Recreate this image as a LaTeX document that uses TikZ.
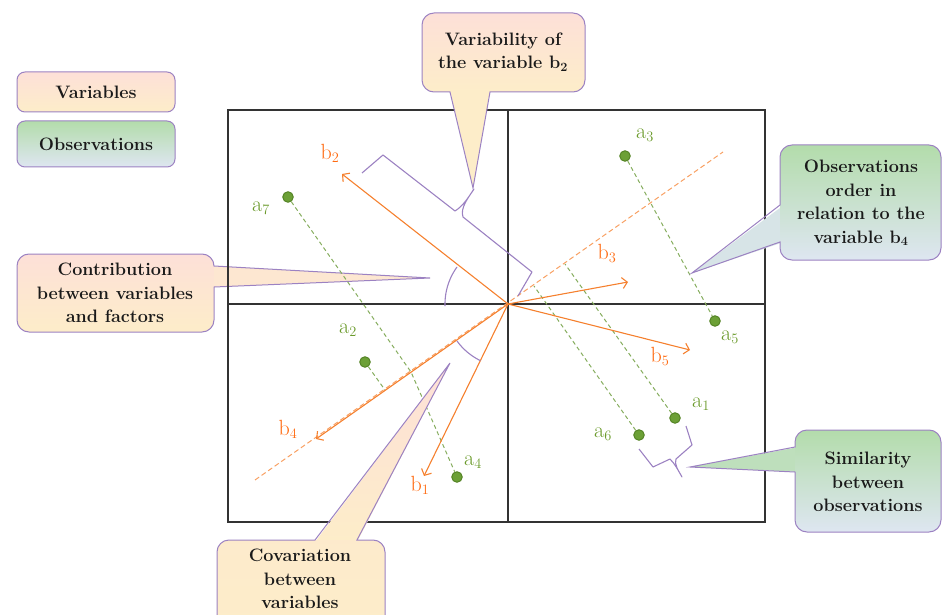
\documentclass[tikz,border=0pt]{standalone}
\usetikzlibrary{arrows.meta}
\definecolor{orng}{HTML}{F5802E}
\definecolor{orngtxt}{HTML}{FF6A10}
\definecolor{grn}{HTML}{6CA036}
\definecolor{grndk}{HTML}{558426}
\definecolor{grntxt}{HTML}{6A9A2A}
\definecolor{grndash}{HTML}{86AD5E}
\definecolor{purp}{HTML}{9C82C2}
\definecolor{pinktop}{HTML}{FDE0D8}
\definecolor{peachbot}{HTML}{FDEDC9}
\definecolor{greentop}{HTML}{B3DCAB}
\definecolor{bluebot}{HTML}{DEE6F1}
\definecolor{txt}{HTML}{1A1A1A}
\definecolor{frame}{HTML}{333333}
\begin{document}
\begin{tikzpicture}[x=1pt,y=-1pt,
  ctext/.style={align=center,text=txt,font=\fontsize{18}{23.5}\selectfont\bfseries,inner sep=0pt},
  blab/.style={text=orngtxt,font=\fontsize{22}{24}\selectfont,inner sep=0pt},
  alab/.style={text=grntxt,font=\fontsize{22}{24}\selectfont,inner sep=0pt},
  gdot/.style={circle,fill=grn,draw=grndk,line width=1pt,minimum size=10.5pt,inner sep=0pt},
  arr/.style={orng,line width=1.1pt,-{Straight Barb[length=5pt,width=11pt]}},
  gdash/.style={grndash,dash pattern=on 4pt off 3pt,line width=1pt},
  odash/.style={orng!75,dash pattern=on 5pt off 3pt,line width=1pt},
  outl/.style={purp,line width=1pt},
  brk/.style={purp,line width=1.1pt,line join=round},
  frm/.style={frame,line width=1.2pt}]
\useasboundingbox (0,0) rectangle (943,615);

% ---------- contribution callout (behind frame) ----------
\fill[pinktop!50!peachbot] (210,266) -- (430,278) -- (210,287) -- cycle;
\shade[top color=pinktop,bottom color=peachbot,rounded corners=12pt] (17,254) rectangle (214,332);
\draw[outl] (214,287) [rounded corners=12pt] -- (214,332) -- (17,332) -- (17,254) -- (214,254) [sharp corners] -- (214,266) -- (430,278) -- cycle;
\node[ctext] (contr) at (115,293) {Contribution\\between variables\\and factors};

% ---------- frame ----------
\draw[frm] (228,110) rectangle (765,522);
\coordinate (O) at (508,304);
\coordinate (vt) at (508,110);
\coordinate (vb) at (508,522);
\coordinate (hl) at (228,304);
\coordinate (hr) at (765,304);
\draw[frm] (vt) -- (vb);
\draw[frm] (hl) -- (hr);

% ---------- b4 axis ----------
\coordinate (ax1) at (255,480);
\coordinate (ax2) at (723,152);
\draw[odash] (ax1) -- (ax2);

% ---------- observations ----------
\node[gdot] (a3) at (625,156) {};
\node[gdot] (a5) at (715,321) {};
\node[gdot] (a1) at (675,418) {};
\node[gdot] (a6) at (639,435) {};
\node[gdot] (a7) at (288,197) {};
\node[gdot] (a2) at (365,362) {};
\node[gdot] (a4) at (457,477) {};
\coordinate (f1) at (565,264);
\coordinate (f6) at (534,286);
\coordinate (f7) at (411,372);
\coordinate (f2) at (385,390);
\draw[gdash] (a3) -- (a5);
\draw[gdash] (a1) -- (f1);
\draw[gdash] (a6) -- (f6);
\draw[gdash] (a7) -- (f7) -- (a4);
\draw[gdash] (a2) -- (f2);

\node[alab] (la3) at (645,135) {a$_3$};
\node[alab] (la5) at (730,337) {a$_5$};
\node[alab] (la1) at (701,404) {a$_1$};
\node[alab] (la6) at (603,434) {a$_6$};
\node[alab] (la7) at (261,208) {a$_7$};
\node[alab] (la2) at (348,330) {a$_2$};
\node[alab] (la4) at (473,462) {a$_4$};

% ---------- variables ----------
\coordinate (b1) at (424,476);
\coordinate (b2) at (342,174);
\coordinate (b3) at (628,282);
\coordinate (b4) at (316,439);
\coordinate (b5) at (690,350);
\draw[arr] (O) -- (b1);
\draw[arr] (O) -- (b2);
\draw[arr] (O) -- (b3);
\draw[arr] (O) -- (b4);
\draw[arr] (O) -- (b5);
\node[blab] (lb1) at (420,485) {b$_1$};
\node[blab] (lb2) at (330,153) {b$_2$};
\node[blab] (lb3) at (607,253) {b$_3$};
\node[blab] (lb4) at (288,429) {b$_4$};
\node[blab] (lb5) at (660,356) {b$_5$};

% ---------- angle arcs ----------
\draw[brk] plot[domain=-144:-182,samples=25] ({508+63*cos(\x)},{304+63*sin(\x)});
\draw[brk] plot[domain=144:116,samples=25] ({508+63*cos(\x)},{304+63*sin(\x)});

% ---------- brackets ----------
\draw[brk] (362,173) -- (383,155) -- (455,211) .. controls (463,206) and (468,198) .. (474,189)
  .. controls (468,198) and (460,208) .. (463,217) -- (532,272) -- (518,296);
\draw[brk] (639,449) -- (653,467) -- (670,459) .. controls (675,464) and (678,470) .. (682,477)
  .. controls (678,470) and (674,464) .. (676,459) -- (692,445) -- (686,426);

% ---------- variability callout ----------
\fill[peachbot] (450,90) -- (473,188) -- (490,90) -- cycle;
\shade[top color=pinktop,bottom color=peachbot,rounded corners=12pt] (422,13) rectangle (585,92);
\draw[outl] (450,92) [rounded corners=12pt] -- (422,92) -- (422,13) -- (585,13) -- (585,92) [sharp corners] -- (490,92) -- (473,188) -- cycle;
\node[ctext] (varb) at (503,52) {Variability of\\the variable b\textsubscript{2}};

% ---------- covariation callout ----------
\shade[top color=pinktop,bottom color=peachbot] (315,542) -- (450,363) -- (357,542) -- cycle;
\shade[top color=peachbot!80!pinktop,bottom color=peachbot,rounded corners=12pt] (217,540) rectangle (385,630);
\draw[outl] (357,540) [rounded corners=12pt] -- (385,540) -- (385,630) -- (217,630) -- (217,540) [sharp corners] -- (315,540) -- (450,363) -- cycle;
\node[ctext] (covar) at (300,579) {Covariation\\between\\variables};

% ---------- observations order callout ----------
\fill[bluebot!85!greentop] (784,205) -- (692,273) -- (784,242) -- cycle;
\shade[top color=greentop,bottom color=bluebot,rounded corners=12pt] (780,145) rectangle (941,260);
\draw[outl] (780,242) [rounded corners=12pt] -- (780,260) -- (941,260) -- (941,145) -- (780,145) [sharp corners] -- (780,205) -- (692,273) -- cycle;
\node[ctext] (order) at (861,203) {Observations\\order in\\relation to the\\variable b\textsubscript{4}};

% ---------- similarity callout ----------
\fill[greentop!75!bluebot] (799,447) -- (690,467) -- (799,472) -- cycle;
\shade[top color=greentop,bottom color=bluebot,rounded corners=12pt] (795,430) rectangle (941,532);
\draw[outl] (795,472) [rounded corners=12pt] -- (795,532) -- (941,532) -- (941,430) -- (795,430) [sharp corners] -- (795,447) -- (690,467) -- cycle;
\node[ctext] (simil) at (868,482) {Similarity\\between\\observations};

% ---------- legend ----------
\node[ctext,minimum width=158pt,minimum height=40pt,rounded corners=8pt,draw=purp,line width=1pt,
  top color=pinktop,bottom color=peachbot] (legv) at (96,92) {Variables};
\node[ctext,minimum width=158pt,minimum height=46pt,rounded corners=8pt,draw=purp,line width=1pt,
  top color=greentop,bottom color=bluebot] (lego) at (96,144) {Observations};
\end{tikzpicture}
\end{document}
